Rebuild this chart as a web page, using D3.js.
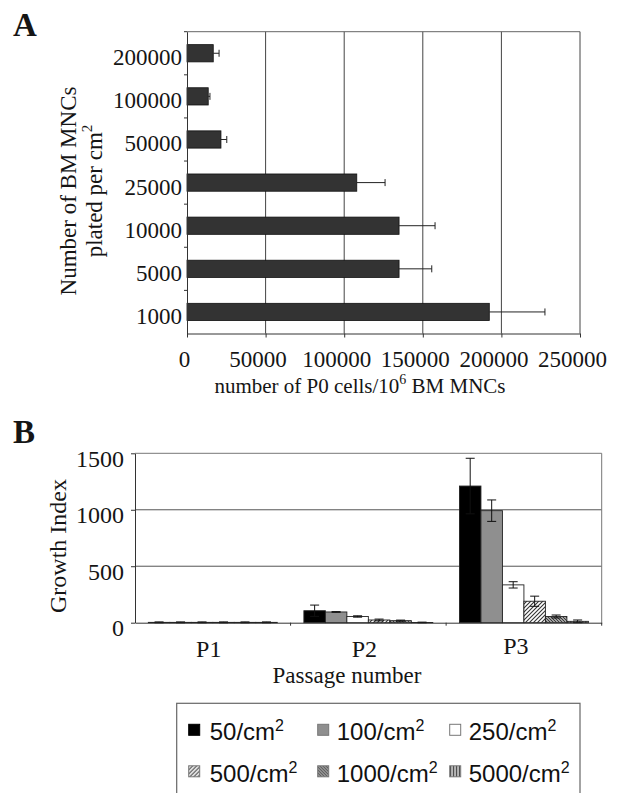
<!DOCTYPE html>
<html>
<head>
<meta charset="utf-8">
<script src="https://cdn.jsdelivr.net/npm/d3@7"></script>
<style>
  body { margin: 0; background: #fff; }
  svg { display: block; }
  .serif { font-family: "Liberation Serif", "Times New Roman", serif; fill: #151515; }
  .sans { font-family: "Liberation Sans", Arial, sans-serif; fill: #111; }
</style>
</head>
<body>
<div id="graph"></div>
<script>
// panel A: P0 yield per plating density (top to bottom)
var platingDensity = ['200000', '100000', '50000', '25000', '10000', '5000', '1000']
var p0Cells = [16700, 13500, 21600, 108000, 134900, 134900, 192300]
var p0Err   = [3700, 1100, 3700, 18000, 22900, 20800, 35400]
var xTicksA = [0, 50000, 100000, 150000, 200000, 250000]

// panel B: growth index per passage
var passages = ['P1', 'P2', 'P3']
var seeding = ['50', '100', '250', '500', '1000', '5000']
var growth = [
  [3, 106, 1210],
  [3, 95, 992],
  [3, 55, 335],
  [3, 24, 190],
  [3, 18, 55],
  [3, 2, 12]
]
var growthErr = [
  [4, 50, 246],
  [4, 3, 95],
  [4, 6, 28],
  [4, 8, 45],
  [4, 5, 13],
  [4, 3, 12]
]
var yTicksB = [0, 500, 1000, 1500]

var W = 622, H = 793
var svg = d3.select('#graph').append('svg').attr('width', W).attr('height', H)

// fills
var defs = svg.append('defs')
var p500 = defs.append('pattern').attr('id', 'hatch500')
    .attr('patternUnits', 'userSpaceOnUse').attr('width', 4).attr('height', 4)
p500.append('rect').attr('width', 4).attr('height', 4).attr('fill', '#fff')
p500.append('path').attr('d', 'M-1,1L1,-1M0,4L4,0M3,5L5,3').attr('stroke', '#333').attr('stroke-width', 1.1)

var p1000 = defs.append('pattern').attr('id', 'dense1000')
    .attr('patternUnits', 'userSpaceOnUse').attr('width', 3).attr('height', 3)
p1000.append('rect').attr('width', 3).attr('height', 3).attr('fill', '#ccc')
p1000.append('path').attr('d', 'M0,0L3,3M-1,2L1,4M2,-1L4,1').attr('stroke', '#333').attr('stroke-width', 1.1)

var p5000 = defs.append('pattern').attr('id', 'vert5000')
    .attr('patternUnits', 'userSpaceOnUse').attr('width', 3).attr('height', 3)
p5000.append('rect').attr('width', 3).attr('height', 3).attr('fill', '#eee')
p5000.append('rect').attr('width', 1.5).attr('height', 3).attr('fill', '#333')

var fills = ['#000', '#8f8f8f', '#fff', 'url(#hatch500)', 'url(#dense1000)', 'url(#vert5000)']

// ---------------- panel A ----------------
var A = {left: 187, right: 580, top: 31.7, bottom: 333.5}
var xA = d3.scaleLinear().domain([0, 250000]).range([A.left, A.right])
var yA = d3.scaleBand().domain(platingDensity).range([A.top, A.bottom]).paddingInner(0.6).paddingOuter(0.3)
var bandA = d3.scaleBand().domain(platingDensity).range([A.top, A.bottom])

var gA = svg.append('g')

// grid + frame
gA.selectAll('line.grid').data(xTicksA.slice(1)).enter().append('line')
    .attr('x1', d => xA(d)).attr('x2', d => xA(d))
    .attr('y1', A.top).attr('y2', A.bottom)
    .attr('stroke', '#444').attr('stroke-width', 1)
gA.append('line').attr('x1', A.left).attr('x2', A.right).attr('y1', A.top).attr('y2', A.top)
    .attr('stroke', '#666')

gA.selectAll('rect.bar').data(platingDensity).enter().append('rect')
    .attr('x', A.left)
    .attr('y', d => yA(d))
    .attr('width', (d, i) => xA(p0Cells[i]) - A.left)
    .attr('height', yA.bandwidth())
    .attr('fill', '#333').attr('stroke', '#111').attr('stroke-width', 0.8)

// error bars (positive side)
platingDensity.forEach(function(d, i) {
  var cy = yA(d) + yA.bandwidth() / 2
  gA.append('line')
      .attr('x1', xA(p0Cells[i])).attr('x2', xA(p0Cells[i] + p0Err[i]))
      .attr('y1', cy).attr('y2', cy).attr('stroke', '#222').attr('stroke-width', 1)
  gA.append('line')
      .attr('x1', xA(p0Cells[i] + p0Err[i])).attr('x2', xA(p0Cells[i] + p0Err[i]))
      .attr('y1', cy - 3.5).attr('y2', cy + 3.5).attr('stroke', '#222').attr('stroke-width', 1)
})

// x axis
var axA = gA.append('g').attr('transform', 'translate(0,' + A.bottom + ')')
    .call(d3.axisBottom(xA).tickValues(xTicksA).tickSize(4).tickSizeOuter(0).tickFormat(d3.format('d')))
axA.attr('font-family', null).attr('font-size', null)
axA.select('.domain').attr('stroke', '#333')
axA.selectAll('.tick line').attr('stroke', '#333')
axA.selectAll('text').attr('class', 'serif').attr('font-size', 23)
    .attr('y', 33).attr('dy', 0).attr('dx', d => d === 0 ? -3 : -8)

// y axis
var ayA = gA.append('g').attr('transform', 'translate(' + A.left + ',0)')
    .call(d3.axisLeft(yA).tickSize(0).tickPadding(5))
ayA.attr('font-family', null).attr('font-size', null)
ayA.select('.domain').attr('stroke', '#333')
ayA.selectAll('text').attr('class', 'serif').attr('font-size', 23).attr('dy', '0.52em')
ayA.selectAll('line.btick').data(platingDensity).enter().append('line')
    .attr('class', 'btick')
    .attr('x1', -3).attr('x2', 0)
    .attr('y1', d => bandA(d)).attr('y2', d => bandA(d))
    .attr('stroke', '#333')

svg.append('text').attr('class', 'serif').attr('x', 13).attr('y', 36)
    .attr('font-size', 33).attr('font-weight', 'bold').text('A')

var xtA = svg.append('text').attr('class', 'serif').attr('font-size', 21)
    .attr('x', 360).attr('y', 393).attr('text-anchor', 'middle')
xtA.append('tspan').text('number of P0 cells/10')
xtA.append('tspan').attr('font-size', 14).attr('dy', -9).text('6')
xtA.append('tspan').attr('dy', 9).text(' BM MNCs')

svg.append('text').attr('class', 'serif').attr('font-size', 23)
    .attr('transform', 'translate(76,191) rotate(-90)').attr('text-anchor', 'middle')
    .text('Number of BM MNCs')
var ytA = svg.append('text').attr('class', 'serif').attr('font-size', 23)
    .attr('transform', 'translate(102,191) rotate(-90)').attr('text-anchor', 'middle')
ytA.append('tspan').text('plated per cm')
ytA.append('tspan').attr('font-size', 15).attr('dy', -10).text('2')

// ---------------- panel B ----------------
var B = {left: 135, right: 601.7, top: 453.3, bottom: 622.7}
var x0B = d3.scaleBand().domain(passages).range([B.left, B.right]).paddingInner(0).paddingOuter(0)
var x1B = d3.scaleBand().domain(seeding).range([0, x0B.bandwidth()]).paddingOuter(0.62).paddingInner(0)
var yB = d3.scaleLinear().domain([0, 1500]).range([B.bottom, B.top])

var gB = svg.append('g')

gB.selectAll('line.grid').data(yTicksB.slice(1, 3)).enter().append('line')
    .attr('x1', B.left).attr('x2', B.right)
    .attr('y1', d => yB(d)).attr('y2', d => yB(d))
    .attr('stroke', '#555')
gB.append('path')
    .attr('d', 'M' + B.left + ',' + yB(1500) + 'H' + B.right + 'V' + B.bottom)
    .attr('fill', 'none').attr('stroke', '#777')

var groups = gB.selectAll('g.series').data(seeding).enter().append('g')
    .attr('class', 'series')

groups.each(function(s, si) {
  var g = d3.select(this)
  passages.forEach(function(p, pi) {
    var v = growth[si][pi], e = growthErr[si][pi]
    var x = x0B(p) + x1B(s)
    g.append('rect')
        .attr('x', x).attr('y', yB(v))
        .attr('width', x1B.bandwidth()).attr('height', yB(0) - yB(v))
        .attr('fill', fills[si]).attr('stroke', '#222').attr('stroke-width', 0.9)
    var cx = x + x1B.bandwidth() / 2
    var lo = Math.max(v - e, -4)
    g.append('path')
        .attr('d', 'M' + cx + ',' + yB(lo) + 'V' + yB(v + e) +
                   'M' + (cx - 4.5) + ',' + yB(v + e) + 'H' + (cx + 4.5) +
                   'M' + (cx - 4.5) + ',' + yB(lo) + 'H' + (cx + 4.5))
        .attr('stroke', '#111').attr('stroke-width', 1).attr('fill', 'none')
  })
})

var axB = gB.append('g').attr('transform', 'translate(0,' + B.bottom + ')')
    .call(d3.axisBottom(x0B).tickSize(0).tickPadding(0))
axB.attr('font-family', null).attr('font-size', null)
axB.select('.domain').attr('stroke', '#333')
axB.selectAll('text').attr('class', 'serif').attr('font-size', 24)
    .attr('y', 34).attr('dy', 0).attr('dx', (d, i) => i === 2 ? -8 : -4)
    .attr('transform', (d, i) => i === 2 ? 'translate(0,-3)' : null)
axB.selectAll('line.btick').data(passages).enter().append('line')
    .attr('class', 'btick')
    .attr('x1', d => x0B(d) + x0B.bandwidth()).attr('x2', d => x0B(d) + x0B.bandwidth())
    .attr('y1', 0).attr('y2', 3).attr('stroke', '#333')

var ayB = gB.append('g').attr('transform', 'translate(' + B.left + ',0)')
    .call(d3.axisLeft(yB).tickValues(yTicksB).tickSize(4).tickSizeOuter(0).tickPadding(7)
      .tickFormat(d3.format('d')))
ayB.attr('font-family', null).attr('font-size', null)
ayB.select('.domain').attr('stroke', '#333')
ayB.selectAll('.tick line').attr('stroke', '#333')
ayB.selectAll('text').attr('class', 'serif').attr('font-size', 24).attr('dy', '0.55em')

svg.append('text').attr('class', 'serif').attr('x', 13).attr('y', 443)
    .attr('font-size', 33).attr('font-weight', 'bold').text('B')

svg.append('text').attr('class', 'serif').attr('font-size', 24)
    .attr('transform', 'translate(66,546) rotate(-90)').attr('text-anchor', 'middle')
    .text('Growth Index')

svg.append('text').attr('class', 'serif').attr('font-size', 23)
    .attr('x', 347).attr('y', 683).attr('text-anchor', 'middle')
    .text('Passage number')

// legend
var lg = svg.append('g').attr('transform', 'translate(176.7,703.3)')
lg.append('rect').attr('width', 403.3).attr('height', 120)
    .attr('fill', '#fff').attr('stroke', '#666').attr('stroke-width', 1.2)
var item = lg.selectAll('g.item').data(seeding).enter().append('g')
    .attr('class', 'item')
    .attr('transform', (d, i) => 'translate(' + [12, 141, 273][i % 3] + ',' + (i < 3 ? 37 : 78.5) + ')')
item.append('rect').attr('x', 0).attr('y', -16).attr('width', 11).attr('height', 11)
    .attr('fill', (d, i) => fills[i]).attr('stroke', (d, i) => i === 0 ? '#000' : '#777')
item.append('text').attr('class', 'sans').attr('font-size', 24)
    .attr('x', (d, i) => (i % 3 === 0) ? 21 : 19)
    .each(function(d) {
      var t = d3.select(this)
      t.append('tspan').text(d + '/cm')
      t.append('tspan').attr('font-size', 16).attr('dy', -9).text('2')
    })
</script>
</body>
</html>
